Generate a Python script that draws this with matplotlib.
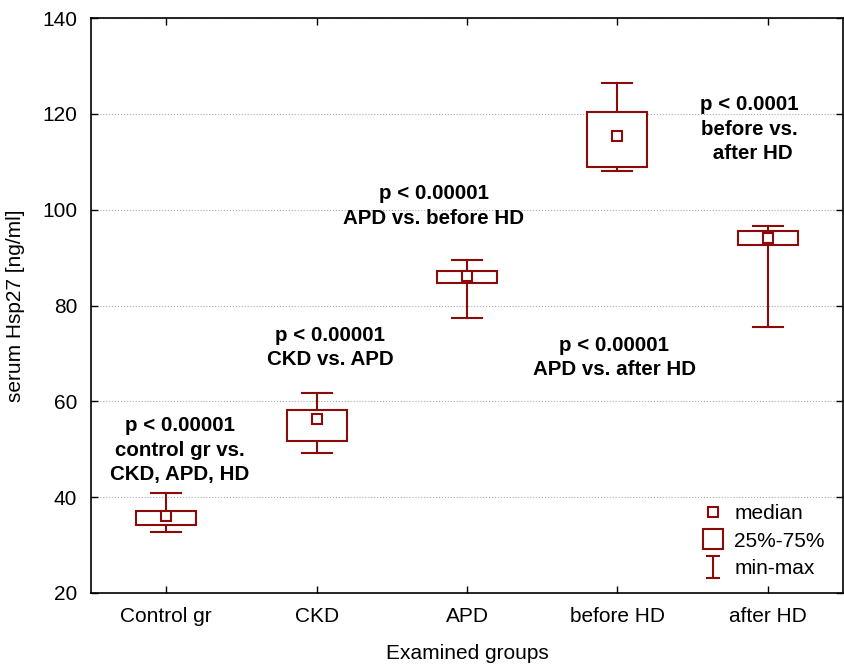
import matplotlib
matplotlib.use("Agg")
import matplotlib.pyplot as plt
from matplotlib.lines import Line2D
from matplotlib.path import Path

# ---------------------------------------------------------------------------
# Data: serum Hsp27 [ng/ml] per examined group
# ---------------------------------------------------------------------------
GROUPS = ["Control gr", "CKD", "APD", "before HD", "after HD"]
MINS = [32.7, 49.2, 77.3, 108.1, 75.5]
Q1 = [34.1, 51.8, 84.7, 108.9, 92.6]
MEDIANS = [36.0, 56.3, 86.2, 115.3, 94.0]
Q3 = [37.2, 58.2, 87.3, 120.4, 95.5]
MAXS = [40.9, 61.7, 89.5, 126.4, 96.7]

# Significance annotations: (text, x in category units, y in ng/ml)
ANNOT_TEXT = [
    "p < 0.00001\ncontrol gr vs.\nCKD, APD, HD",
    "p < 0.00001\nCKD vs. APD",
    "p < 0.00001\nAPD vs. before HD",
    "p < 0.00001\nAPD vs. after HD",
    "p < 0.0001\nbefore vs.\n after HD",
]
ANNOT_X = [0.09, 1.09, 1.78, 2.98, 3.88]
ANNOT_Y = [49.8, 71.2, 100.8, 69.1, 116.8]

RED = "#8B0A0A"
FONT = "Liberation Sans"
plt.rcParams["font.family"] = [FONT, "DejaVu Sans"]
FS = 15

fig = plt.figure(figsize=(8.45, 6.7), dpi=100)
ax = fig.add_axes([0.1077, 0.115, 0.8899, 0.858])

BOX_W = 0.4
CAP_W = 0.2
for i in range(len(GROUPS)):
    # whiskers
    ax.plot([i, i], [MINS[i], Q1[i]], color=RED, lw=1.5, zorder=2)
    ax.plot([i, i], [Q3[i], MAXS[i]], color=RED, lw=1.5, zorder=2)
    ax.plot([i - CAP_W / 2, i + CAP_W / 2], [MINS[i], MINS[i]], color=RED, lw=1.5, zorder=2)
    ax.plot([i - CAP_W / 2, i + CAP_W / 2], [MAXS[i], MAXS[i]], color=RED, lw=1.5, zorder=2)
    # box
    ax.add_patch(plt.Rectangle((i - BOX_W / 2, Q1[i]), BOX_W, Q3[i] - Q1[i],
                               facecolor="white", edgecolor=RED, lw=1.5, zorder=3))
    # median
    ax.plot(i, MEDIANS[i], marker="s", ms=6.5, mfc="white", mec=RED, mew=1.5, zorder=4)

for txt, x, y in zip(ANNOT_TEXT, ANNOT_X, ANNOT_Y):
    ax.text(x, y, txt, ha="center", va="center", fontsize=14.8, fontweight="bold",
            linespacing=1.35, color="black")

ax.set_xlim(-0.5, 4.5)
ax.set_ylim(20, 140)
ax.set_xticks(range(len(GROUPS)))
ax.set_xticklabels(GROUPS, fontsize=FS)
ax.set_yticks(range(20, 141, 20))
ax.tick_params(axis="y", labelsize=FS, pad=10)
ax.tick_params(axis="x", pad=10)
ax.tick_params(direction="in", length=5, width=1, top=True, right=True)
ax.grid(axis="y", color="#AAAAAA", linestyle=":", linewidth=0.8)
for sp in ax.spines.values():
    sp.set_linewidth(1.2)

ax.set_xlabel("Examined groups", fontsize=FS, labelpad=13)
ax.set_ylabel("serum Hsp27 [ng/ml]", fontsize=FS, labelpad=12)

# Legend with custom glyphs
ibeam = Path([(-0.65, 1), (0.65, 1), (0, 1), (0, -1), (-0.65, -1), (0.65, -1)],
             [Path.MOVETO, Path.LINETO, Path.MOVETO, Path.LINETO, Path.MOVETO, Path.LINETO])
handles = [
    Line2D([], [], ls="none", marker="s", ms=6.5, mfc="white", mec=RED, mew=1.5),
    Line2D([], [], ls="none", marker="s", ms=14, mfc="white", mec=RED, mew=1.5),
    Line2D([], [], ls="none", marker=ibeam, ms=16, mfc="none", mec=RED, mew=1.5),
]
ax.legend(handles, ["median", "25%-75%", "min-max"], loc="lower right",
          frameon=False, fontsize=FS, handlelength=1.0, handletextpad=0.5,
          labelspacing=0.42, borderaxespad=0.3, bbox_to_anchor=(0.995, 0.0))

fig.savefig("out.png", dpi=100)
